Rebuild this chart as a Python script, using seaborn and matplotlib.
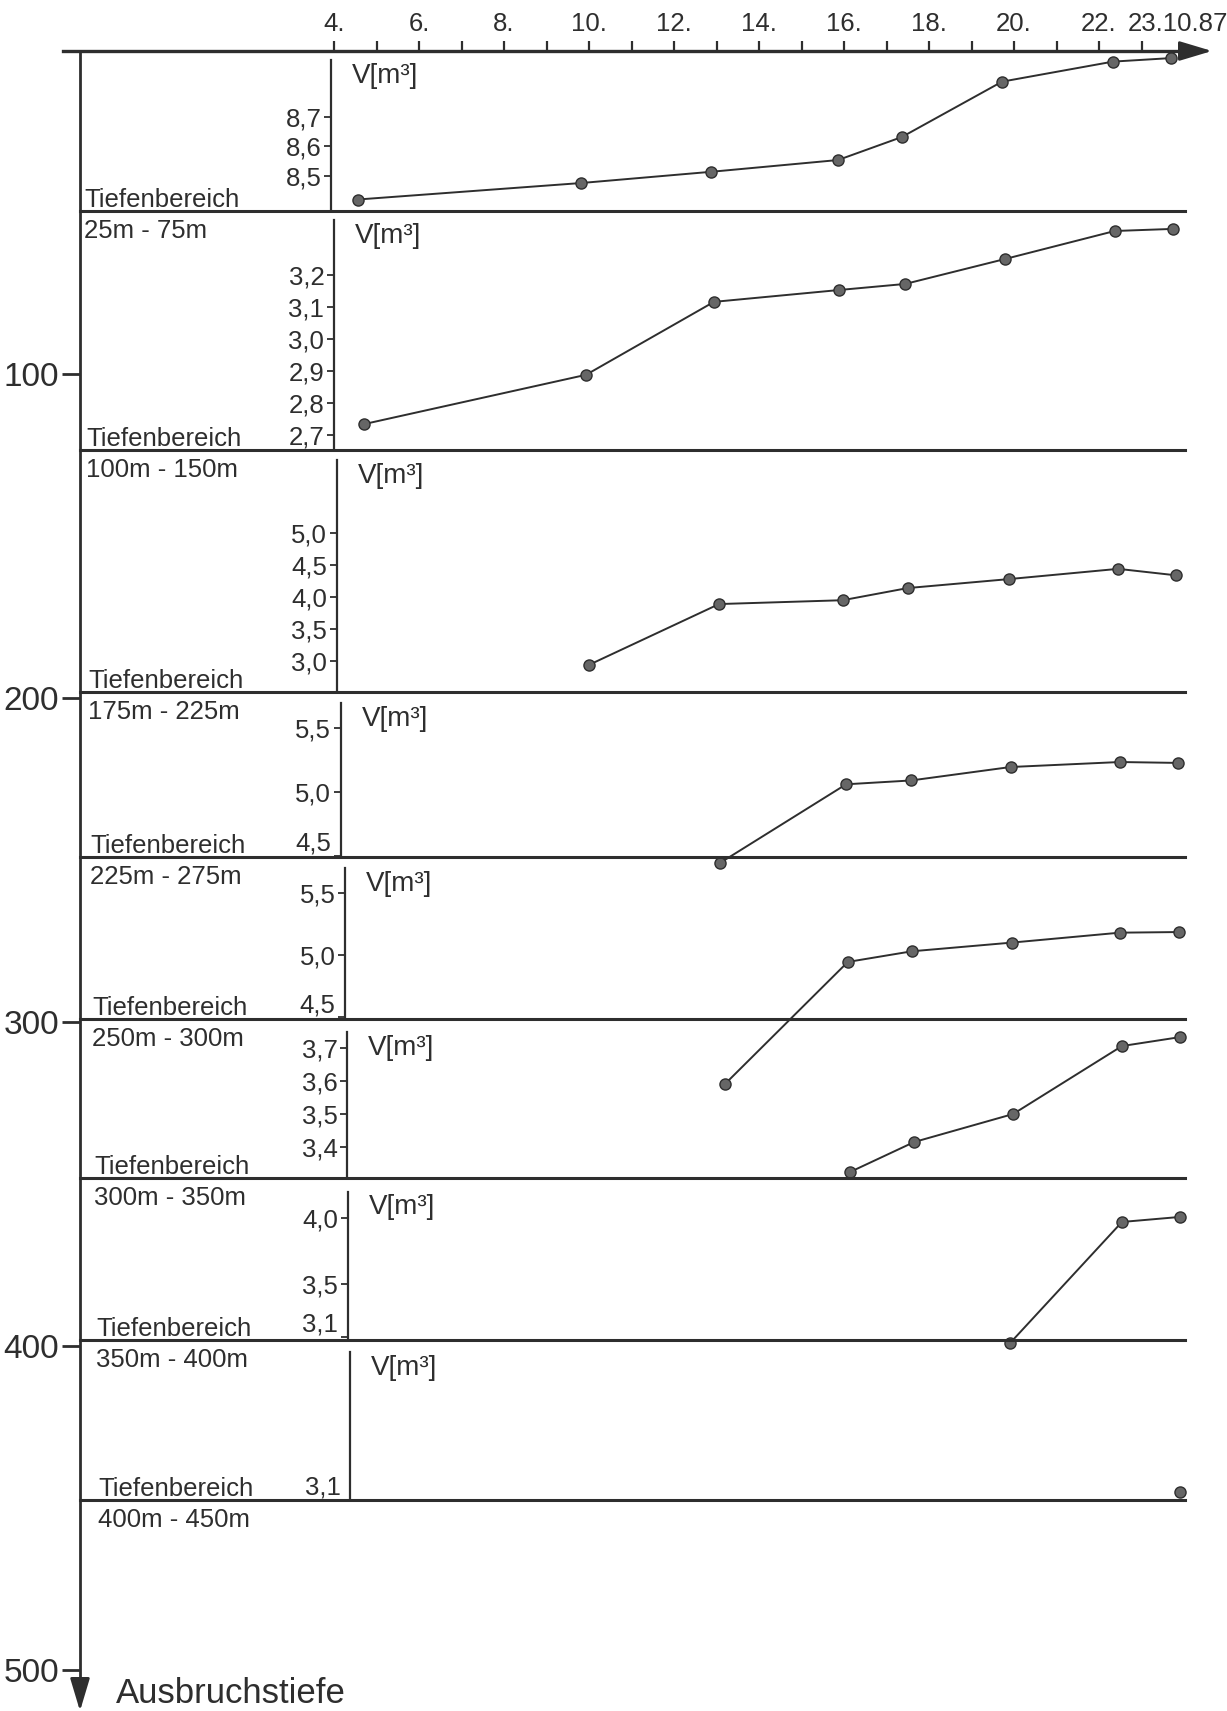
import matplotlib
matplotlib.use("Agg")
import matplotlib.pyplot as plt
import matplotlib.transforms as mtransforms
import seaborn as sns

# Messwerte je Tiefenbereich (Tag im Oktober 1987, Volumen in m3)
tage_1 = [4.56, 9.82, 12.87, 15.86, 17.36, 19.72, 22.33, 23.70]
vol_1 = [8.42, 8.476, 8.514, 8.554, 8.632, 8.82, 8.888, 8.90]
tage_2 = [4.71, 9.93, 12.94, 15.88, 17.44, 19.79, 22.37, 23.73]
vol_2 = [2.734, 2.888, 3.116, 3.153, 3.172, 3.25, 3.3375, 3.344]
tage_3 = [10.0, 13.06, 15.97, 17.50, 19.88, 22.45, 23.80]
vol_3 = [2.94, 3.89, 3.95, 4.14, 4.28, 4.44, 4.34]
tage_4 = [13.08, 16.05, 17.58, 19.92, 22.49, 23.86]
vol_4 = [4.445, 5.06, 5.09, 5.195, 5.234, 5.227]
tage_5 = [13.20, 16.09, 17.60, 19.95, 22.49, 23.88]
vol_5 = [3.96, 4.944, 5.03, 5.10, 5.18, 5.185]
tage_6 = [16.14, 17.65, 19.98, 22.54, 23.90]
vol_6 = [3.324, 3.415, 3.50, 3.706, 3.733]
tage_7 = [19.90, 22.54, 23.90]
vol_7 = [3.05, 3.97, 4.008]
tage_8 = [23.90]
vol_8 = [3.16]

tage = [tage_1, tage_2, tage_3, tage_4, tage_5, tage_6, tage_7, tage_8]
volumen = [vol_1, vol_2, vol_3, vol_4, vol_5, vol_6, vol_7, vol_8]

v_ticks = [
    [8.5, 8.6, 8.7],
    [2.7, 2.8, 2.9, 3.0, 3.1, 3.2],
    [3.0, 3.5, 4.0, 4.5, 5.0],
    [4.5, 5.0, 5.5],
    [4.5, 5.0, 5.5],
    [3.4, 3.5, 3.6, 3.7],
    [3.1, 3.5, 4.0],
    [3.1],
]
v_limits = [(8.381, 8.924), (2.653, 3.40), (2.516, 6.297), (4.492, 5.781),
            (4.484, 5.79), (3.306, 3.788), (3.076, 4.303), (3.1, 4.312)]
v_achse_oben = [8.893, 3.372, 6.14, 5.695, 5.70, 3.748, 4.20, 4.22]
v_achse_tag = [3.93, 4.0, 4.07, 4.16, 4.26, 4.31, 4.33, 4.38]

bereiche = ["25m - 75m", "100m - 150m", "175m - 225m", "225m - 275m",
            "250m - 300m", "300m - 350m", "350m - 400m", "400m - 450m"]

tag_ticks = list(range(4, 24))
tag_labels = [f"{t}." if t % 2 == 0 else "" for t in tag_ticks]
tag_labels[-1] = "23.10.87"
tiefe_ticks = [100, 200, 300, 400, 500]

# Layout in Pixeln
W, H = 1227, 1711
linie_oben = [51, 211, 450, 692, 857, 1019, 1178, 1340]
linie_unten = [211, 450, 692, 857, 1019, 1178, 1340, 1500]
ink = "#2e2e2e"


def fx(px):
    return px / W


def fy(py):
    return 1 - py / H


def tag_bei(px):
    return 4 + (px - 334) / 42.5


def tiefe_bei(py):
    return (py - 50) / 3.24


sns.set_style("white")
plt.rcParams["font.family"] = ["Liberation Sans", "DejaVu Sans"]

fig = plt.figure(figsize=(W / 100, H / 100), dpi=100, facecolor="white")

# Hauptachsen: Datum oben, Ausbruchstiefe links
ax0 = fig.add_axes([fx(63), fy(1700), (1195 - 63) / W, (1700 - 51) / H])
ax0.patch.set_alpha(0)
ax0.set_xlim(tag_bei(63), tag_bei(1195))
ax0.set_ylim(tiefe_bei(1700), tiefe_bei(51))
for s in ["right", "bottom"]:
    ax0.spines[s].set_visible(False)
ax0.spines["top"].set_linewidth(2.4)
ax0.spines["top"].set_color(ink)
ax0.spines["left"].set_position(("axes", (80 - 63) / (1195 - 63)))
ax0.spines["left"].set_linewidth(2.0)
ax0.spines["left"].set_color(ink)
ax0.xaxis.tick_top()
ax0.set_xticks(tag_ticks)
ax0.set_xticklabels(tag_labels)
ax0.tick_params(axis="x", top=True, bottom=False, length=7, width=1.6,
                direction="out", colors=ink, labelsize=18.5, pad=4)
ax0.set_yticks(tiefe_ticks)
ax0.set_yticklabels([str(t) for t in tiefe_ticks])
ax0.tick_params(axis="y", left=True, length=13, width=2.0, direction="out",
                colors=ink, labelsize=24, pad=2)
lbl = ax0.get_xticklabels()[-1]
lbl.set_ha("left")
lbl.set_transform(lbl.get_transform()
                  + mtransforms.ScaledTranslation(-0.14, 0, fig.dpi_scale_trans))

pfeil = dict(arrowstyle="-|>,head_length=1.0,head_width=0.3", color=ink,
             lw=2.0, mutation_scale=20, shrinkA=0, shrinkB=0)
fig.add_artist(plt.Annotation("", xy=(1212, H - 51), xytext=(1180, H - 51),
                              xycoords="figure pixels", arrowprops=pfeil))
fig.add_artist(plt.Annotation("", xy=(80, 0), xytext=(80, H - 1680),
                              xycoords="figure pixels", arrowprops=pfeil))
fig.text(fx(116), fy(1703), "Ausbruchstiefe", fontsize=25, color=ink,
         va="baseline", ha="left")

# Einzelne Tiefenbereiche
for i in range(8):
    top, bot = linie_oben[i], linie_unten[i]
    ax = fig.add_axes([fx(80), fy(bot), (1185 - 80) / W, (bot - top) / H])
    ax.patch.set_alpha(0)
    sns.lineplot(x=tage[i], y=volumen[i], ax=ax, marker="o", markersize=8,
                 color=ink, linewidth=1.4, markerfacecolor="#666666",
                 markeredgecolor=ink, markeredgewidth=1.0, clip_on=False,
                 sort=False)
    lo, hi = v_limits[i]
    ax.set_xlim(tag_bei(80), tag_bei(1185))
    ax.set_ylim(lo, hi)
    ax.set_xlabel("")
    ax.set_ylabel("")
    ax.set_xticks([])
    for s in ["top", "right"]:
        ax.spines[s].set_visible(False)
    ax.spines["bottom"].set_linewidth(2.2)
    ax.spines["bottom"].set_color(ink)
    ax.spines["left"].set_position(("data", v_achse_tag[i]))
    ax.spines["left"].set_bounds(lo, v_achse_oben[i])
    ax.spines["left"].set_linewidth(1.6)
    ax.spines["left"].set_color(ink)
    ax.set_yticks(v_ticks[i])
    ax.set_yticklabels([f"{v:.1f}".replace(".", ",") for v in v_ticks[i]])
    ax.tick_params(axis="y", left=True, length=5, width=1.3, direction="out",
                   colors=ink, labelsize=18.5, pad=2)
    for v, t in zip(v_ticks[i], ax.get_yticklabels()):
        if (v - lo) / (hi - lo) < 0.06:
            t.set_va("bottom")
    ax.annotate("V[m³]", xy=(v_achse_tag[i], v_achse_oben[i]), xycoords="data",
                xytext=(15, -2), textcoords="offset points", fontsize=20,
                color=ink, ha="left", va="top")

    lx = 84 + 2 * i
    fig.text(fx(lx), fy(bot - 4), "Tiefenbereich", fontsize=18.5, color=ink,
             ha="left", va="baseline")
    fig.text(fx(lx), fy(bot + 8), bereiche[i], fontsize=18.5, color=ink,
             ha="left", va="top")

fig.savefig("out.png", dpi=100)
